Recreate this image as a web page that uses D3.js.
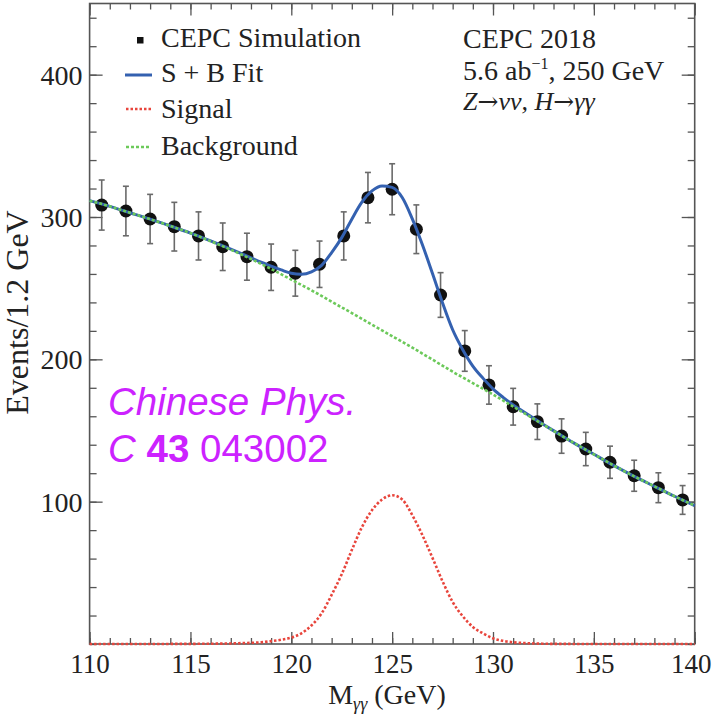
<!DOCTYPE html>
<html>
<head>
<meta charset="utf-8">
<script src="https://cdn.jsdelivr.net/npm/d3@7"></script>
<style>
  html, body { margin: 0; padding: 0; background: #fff; }
  svg { display: block; }
</style>
</head>
<body>
<svg id="chart" width="713" height="716"></svg>
<script>
// Diphoton invariant mass spectrum, Z→νν, H→γγ channel
const binCenters = [110.6, 111.8, 113.0, 114.2, 115.4, 116.6, 117.8, 119.0, 120.2, 121.4,
                    122.6, 123.8, 125.0, 126.2, 127.4, 128.6, 129.8, 131.0, 132.2, 133.4,
                    134.6, 135.8, 137.0, 138.2, 139.4];
const events = [308.4, 304.2, 298.6, 293.2, 286.7, 279.1, 272.1, 264.7, 260.5, 266.8,
                286.7, 313.6, 319.5, 291.4, 245.2, 205.9, 182.0, 166.7, 156.2, 146.1,
                137.0, 127.7, 118.2, 109.8, 101.2];
const eventErrors = [17.6, 17.4, 17.3, 17.1, 16.9, 16.7, 16.5, 16.3, 16.1, 16.3,
                     16.9, 17.7, 17.9, 17.1, 15.7, 14.3, 13.5, 12.9, 12.5, 12.1,
                     11.7, 11.3, 10.9, 10.5, 10.1];

// Background component of the fit
const bgMass = [110, 111, 112, 113, 114, 115, 116, 117, 118, 119, 120, 121, 122, 123, 124, 125,
                126, 127, 128, 129, 130, 131, 132, 133, 134, 135, 136, 137, 138, 139, 140];
const bgValues = [311.5, 307.5, 303.0, 298.5, 293.7, 288.7, 283.0, 277.0, 270.5, 263.5, 256.0,
                  248.5, 240.5, 232.5, 224.3, 216.3, 208.2, 199.8, 191.3, 183.3, 175.3,
                  166.8, 158.3, 149.8, 141.3, 133.3, 125.3, 117.8, 110.8, 103.8, 97.2];

// Signal component of the fit
const sigMass = [110, 112, 114, 116, 117, 117.5, 118, 118.5, 119, 119.5, 120, 120.5, 121, 121.5,
                 122, 122.5, 123, 123.5, 124, 124.5, 125, 125.5, 126, 126.5, 127, 127.5, 128,
                 128.5, 129, 129.5, 130, 130.5, 131, 131.5, 132, 132.5, 133, 134, 136, 138, 140];
const sigValues = [0, 0, 0.05, 0.2, 0.4, 0.6, 0.8, 1.2, 2.0, 3.0, 4.5, 7.5, 13.0, 21.5,
                   34.5, 49.0, 66.0, 82.0, 94.0, 101.5, 104.5, 101.5, 90.5, 76.5, 60.5, 44.0, 29.5,
                   19.5, 12.0, 7.5, 4.0, 2.2, 1.2, 0.7, 0.4, 0.2, 0.1, 0.05, 0, 0, 0];

// Signal + background fit
const fitMass = [110, 111, 112, 113, 114, 115, 116, 117, 117.5, 118, 118.5, 119, 119.5, 120,
                 120.5, 121, 121.5, 122, 122.5, 123, 123.5, 124, 124.5, 125, 125.5, 126, 126.5,
                 127, 127.5, 128, 128.5, 129, 129.5, 130, 130.5, 131, 131.5, 132, 132.5, 133,
                 134, 135, 136, 137, 138, 139, 140];
const fitValues = [311.5, 307.5, 303.0, 298.5, 293.7, 288.7, 283.2, 277.4, 274.4, 271.3, 268.2,
                   265.5, 262.8, 260.5, 259.8, 261.5, 266.0, 275.0, 285.5, 298.5, 310.4, 318.3,
                   321.8, 320.8, 313.7, 298.7, 280.5, 260.3, 239.6, 220.8, 206.8, 195.3, 186.8,
                   179.3, 173.3, 168.0, 163.3, 158.7, 154.2, 149.9, 141.3, 133.3, 125.3, 117.8,
                   110.8, 103.8, 97.2];

const xTicks = [110, 115, 120, 125, 130, 135, 140];
const yTicks = [100, 200, 300, 400];

const legendItems = ["CEPC Simulation", "S + B Fit", "Signal", "Background"];

const colors = {
  fit: "#3461b0",
  signal: "#e8453c",
  background: "#6cc95a",
  points: "#111",
  errors: "#6a6a6a",
  frame: "#555",
  text: "#222",
  note: "#cc22ff"
};

const svg = d3.select("#chart");
const serif = "'Liberation Serif', 'Times New Roman', serif";

const plotLeft = 89.6, plotRight = 694.7, plotTop = 3.5, plotBottom = 644;
const x = d3.scaleLinear().domain([110, 140]).range([plotLeft, plotRight]);
const y = d3.scaleLinear().domain([0, 450]).range([plotBottom, plotTop]);

// Axes: ROOT style, ticks pointing inward on all four sides
const gAxes = svg.append("g");
const addAxis = (axis, tx, ty) => gAxes.append("g").attr("transform", `translate(${tx},${ty})`).call(axis);

const xMinor = d3.range(110, 141, 1);
const yMinor = d3.range(0, 451, 20);

function styleAxis(g) {
  g.select(".domain").remove();
  g.selectAll("line").attr("stroke", colors.frame).attr("stroke-width", 1.3);
  g.selectAll("text").remove();
}

// minor ticks
addAxis(d3.axisTop(x).tickValues(xMinor).tickSize(6), 0, plotBottom).call(styleAxis);
addAxis(d3.axisBottom(x).tickValues(xMinor).tickSize(6), 0, plotTop).call(styleAxis);
addAxis(d3.axisRight(y).tickValues(yMinor).tickSize(7), plotLeft, 0).call(styleAxis);
addAxis(d3.axisLeft(y).tickValues(yMinor).tickSize(7), plotRight, 0).call(styleAxis);
// major ticks
addAxis(d3.axisTop(x).tickValues(xTicks).tickSize(12), 0, plotBottom).call(styleAxis);
addAxis(d3.axisBottom(x).tickValues(xTicks).tickSize(12), 0, plotTop).call(styleAxis);
addAxis(d3.axisRight(y).tickValues(yTicks).tickSize(13), plotLeft, 0).call(styleAxis);
addAxis(d3.axisLeft(y).tickValues(yTicks).tickSize(13), plotRight, 0).call(styleAxis);

// tick labels
const xLab = d3.axisBottom(x).tickValues(xTicks).tickSize(0).tickPadding(0);
gAxes.append("g").attr("transform", `translate(0,${plotBottom})`).call(xLab)
  .call(g => g.select(".domain").remove())
  .call(g => g.selectAll("text")
    .attr("y", 29).attr("dy", 0)
    .attr("dx", d => d === 140 ? -4 : 0)
    .attr("font-family", serif).attr("font-size", 27).attr("fill", colors.text));

const yLab = d3.axisLeft(y).tickValues(yTicks).tickSize(0).tickPadding(0);
gAxes.append("g").attr("transform", `translate(${plotLeft},0)`).call(yLab)
  .call(g => g.select(".domain").remove())
  .call(g => g.selectAll("text")
    .attr("x", -7).attr("dy", "0.34em")
    .attr("font-family", serif).attr("font-size", 28).attr("fill", colors.text));

// frame
svg.append("rect")
  .attr("x", plotLeft).attr("y", plotTop)
  .attr("width", plotRight - plotLeft).attr("height", plotBottom - plotTop)
  .attr("fill", "none").attr("stroke", colors.frame).attr("stroke-width", 1.6);

// axis titles
svg.append("text")
  .attr("transform", `translate(28,${(205 + 420) / 2}) rotate(-90)`)
  .attr("text-anchor", "middle")
  .attr("font-family", serif).attr("font-size", 32).attr("fill", colors.text)
  .text("Events/1.2 GeV");

const xTitle = svg.append("text")
  .attr("x", 387).attr("y", 704)
  .attr("text-anchor", "middle")
  .attr("font-family", serif).attr("font-size", 28).attr("fill", colors.text);
xTitle.append("tspan").text("M");
xTitle.append("tspan").attr("font-size", 18).attr("dy", 6).attr("font-style", "italic").text("γγ");
xTitle.append("tspan").attr("dy", -6).text(" (GeV)");

// error bars
const gErr = svg.append("g").attr("stroke", colors.errors).attr("stroke-width", 1.6);
binCenters.forEach((m, i) => {
  const cx = x(m), lo = y(events[i] - eventErrors[i]), hi = y(events[i] + eventErrors[i]);
  gErr.append("line").attr("x1", cx).attr("x2", cx).attr("y1", lo).attr("y2", hi);
  gErr.append("line").attr("x1", cx - 3).attr("x2", cx + 3).attr("y1", lo).attr("y2", lo);
  gErr.append("line").attr("x1", cx - 3).attr("x2", cx + 3).attr("y1", hi).attr("y2", hi);
});

// data points
svg.append("g").selectAll("circle")
  .data(binCenters)
  .join("circle")
  .attr("cx", d => x(d))
  .attr("cy", (d, i) => y(events[i]))
  .attr("r", 6.5)
  .attr("fill", colors.points);

// fit curves
const curve = (xs, ys) => d3.line()
  .x((d, i) => x(xs[i]))
  .y((d, i) => y(ys[i]))
  .curve(d3.curveMonotoneX)(xs);

svg.append("path").attr("d", curve(fitMass, fitValues))
  .attr("fill", "none").attr("stroke", colors.fit).attr("stroke-width", 3);
svg.append("path").attr("d", curve(bgMass, bgValues))
  .attr("fill", "none").attr("stroke", colors.background).attr("stroke-width", 2.6)
  .attr("stroke-dasharray", "3,2");
svg.append("path").attr("d", curve(sigMass, sigValues))
  .attr("fill", "none").attr("stroke", colors.signal).attr("stroke-width", 2.6)
  .attr("stroke-dasharray", "2.5,2");

// legend
const legend = svg.append("g").attr("font-family", serif).attr("font-size", 28).attr("fill", colors.text);
const legendY = [47, 82, 118, 155];
legend.append("rect").attr("x", 137).attr("y", 37).attr("width", 6.5).attr("height", 6.5).attr("fill", colors.points);
legend.append("line").attr("x1", 125).attr("x2", 152).attr("y1", 75).attr("y2", 75)
  .attr("stroke", colors.fit).attr("stroke-width", 3);
legend.append("line").attr("x1", 126).attr("x2", 151).attr("y1", 109).attr("y2", 109)
  .attr("stroke", colors.signal).attr("stroke-width", 2.6).attr("stroke-dasharray", "2.5,2");
legend.append("line").attr("x1", 126).attr("x2", 151).attr("y1", 147).attr("y2", 147)
  .attr("stroke", colors.background).attr("stroke-width", 2.6).attr("stroke-dasharray", "3,2");
legendItems.forEach((t, i) => {
  legend.append("text").attr("x", 161).attr("y", legendY[i]).text(t);
});

// run information
const info = svg.append("g").attr("font-family", serif).attr("font-size", 28).attr("fill", colors.text);
info.append("text").attr("x", 463).attr("y", 48).text("CEPC 2018");
const lumi = info.append("text").attr("x", 463).attr("y", 80);
lumi.append("tspan").text("5.6 ab");
lumi.append("tspan").attr("font-size", 16).attr("dy", -11).text("−1");
lumi.append("tspan").attr("dy", 11).text(", 250 GeV");
const decay = info.append("text").attr("x", 463).attr("y", 110).attr("font-style", "italic").attr("font-size", 26);
decay.append("tspan").text("Z");
decay.append("tspan").attr("font-family", "'DejaVu Serif', serif").attr("font-style", "normal").attr("font-size", 25).text("→");
decay.append("tspan").text("νν, H");
decay.append("tspan").attr("font-family", "'DejaVu Serif', serif").attr("font-style", "normal").attr("font-size", 25).text("→");
decay.append("tspan").text("γγ");

// journal reference
const note = svg.append("g").attr("font-family", "'Liberation Sans', Arial, sans-serif")
  .attr("font-size", 38.5).attr("fill", colors.note);
note.append("text").attr("x", 108).attr("y", 415).attr("font-style", "italic").text("Chinese Phys.");
const ref = note.append("text").attr("x", 108).attr("y", 462);
ref.append("tspan").attr("font-style", "italic").text("C");
ref.append("tspan").text(" ");
ref.append("tspan").attr("font-weight", "bold").text("43");
ref.append("tspan").text(" 043002");
</script>
</body>
</html>
